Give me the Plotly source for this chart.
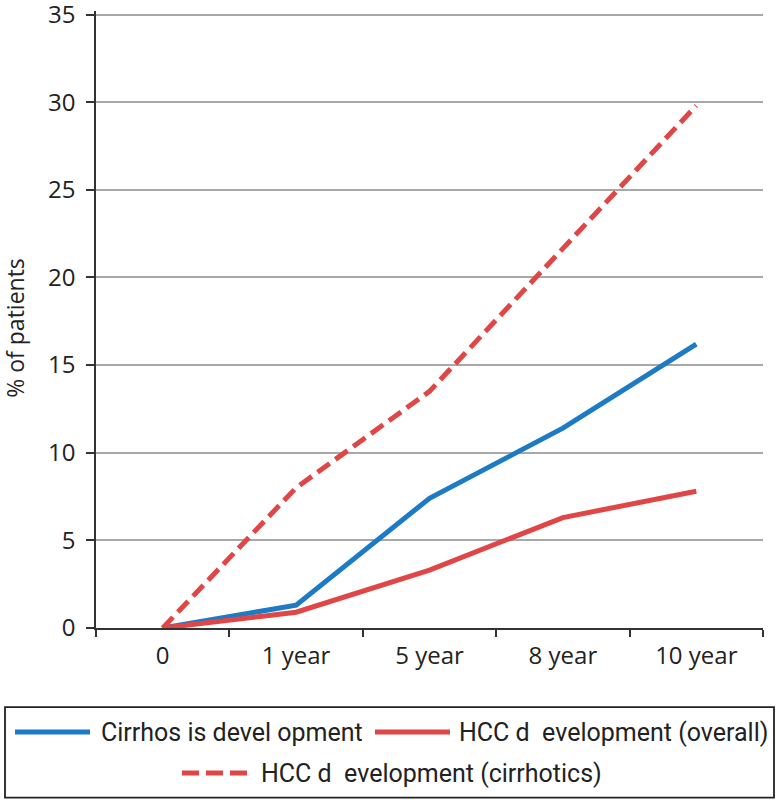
import plotly.graph_objects as go

categories = ["0", "1 year", "5 year", "8 year", "10 year"]
cirrhosis = [0, 1.3, 7.4, 11.4, 16.2]
hcc_overall = [0, 0.9, 3.3, 6.3, 7.8]
hcc_cirrhotics = [0, 8.0, 13.5, 21.7, 29.8]
y_ticks = [0, 5, 10, 15, 20, 25, 30, 35]
legend_labels = ["Cirrhos is devel opment", "HCC d  evelopment (overall)", "HCC d  evelopment (cirrhotics)"]
y_title = "% of patients"

BLUE = "#1c7bc4"
RED = "#e04646"
W, H = 779, 800
Y_TOP = 35.2
L, R, B = 96, 763, 628
T = 15 - (Y_TOP - 35) * (B - 15) / 35.0

fig = go.Figure()
fig.add_trace(go.Scatter(x=categories, y=cirrhosis, mode="lines",
                         line=dict(color=BLUE, width=5), name=legend_labels[0]))
fig.add_trace(go.Scatter(x=categories, y=hcc_overall, mode="lines",
                         line=dict(color=RED, width=5), name=legend_labels[1]))
fig.add_trace(go.Scatter(x=categories, y=hcc_cirrhotics, mode="lines",
                         line=dict(color=RED, width=5, dash="15px,7px"), name=legend_labels[2]))

def px(x):
    return (x - L) / (R - L)

def py(y):
    return (B - y) / (B - T)

shapes = []
annotations = []
shapes.append(dict(type="rect", xref="paper", yref="paper",
                   x0=px(5), x1=px(774), y0=py(707), y1=py(797.5),
                   line=dict(color="#222222", width=1.8), fillcolor="white"))
legend_font = "Roboto, Lato, sans-serif"
legend_items = [
    (15, 90, 732, 99, BLUE, "solid", legend_labels[0]),
    (375, 450, 732, 457, RED, "solid", legend_labels[1]),
    (182, 248, 773, 259, RED, "17px,7px", legend_labels[2]),
]
for x0, x1, yy, tx, col, dash, lab in legend_items:
    shapes.append(dict(type="line", xref="paper", yref="paper",
                       x0=px(x0), x1=px(x1), y0=py(yy), y1=py(yy),
                       line=dict(color=col, width=5, dash=dash)))
    annotations.append(dict(xref="paper", yref="paper", x=px(tx), y=py(yy),
                            xanchor="left", yanchor="middle", showarrow=False,
                            text=lab, font=dict(size=25, color="#222222", family=legend_font)))
annotations.append(dict(xref="paper", yref="paper", x=px(-3), y=py(328),
                        xanchor="left", yanchor="middle", showarrow=False,
                        textangle=-90, text=y_title,
                        font=dict(size=23, color="#222222")))

font_main = "Open Sans, Noto Sans, sans-serif"
fig.update_layout(
    width=W, height=H,
    margin=dict(l=L, r=W - R, t=T, b=H - B, autoexpand=False),
    paper_bgcolor="white", plot_bgcolor="white",
    showlegend=False,
    shapes=shapes, annotations=annotations,
    font=dict(family=font_main, size=23, color="#222222"),
    xaxis=dict(type="category", range=[-0.5, 4.5], tickson="boundaries",
               ticks="outside", ticklen=7, tickwidth=1.5, tickcolor="#333333",
               showline=True, linecolor="#333333", linewidth=1.5,
               showgrid=False, tickfont=dict(size=24), ticklabelstandoff=5,
               fixedrange=True),
    yaxis=dict(range=[0, Y_TOP], tickvals=y_ticks, ticks="outside", ticklen=8,
               tickwidth=1.5, tickcolor="#333333",
               showline=True, linecolor="#333333", linewidth=1.5,
               showgrid=True, gridcolor="#a8a8a8", gridwidth=1.5,
               zeroline=False, tickfont=dict(size=24), ticklabelstandoff=6,
               ticklabeloverflow="allow"),
)
fig.write_html("out.html", config={"displayModeBar": False},
               post_script="document.body.style.margin='0px';")
